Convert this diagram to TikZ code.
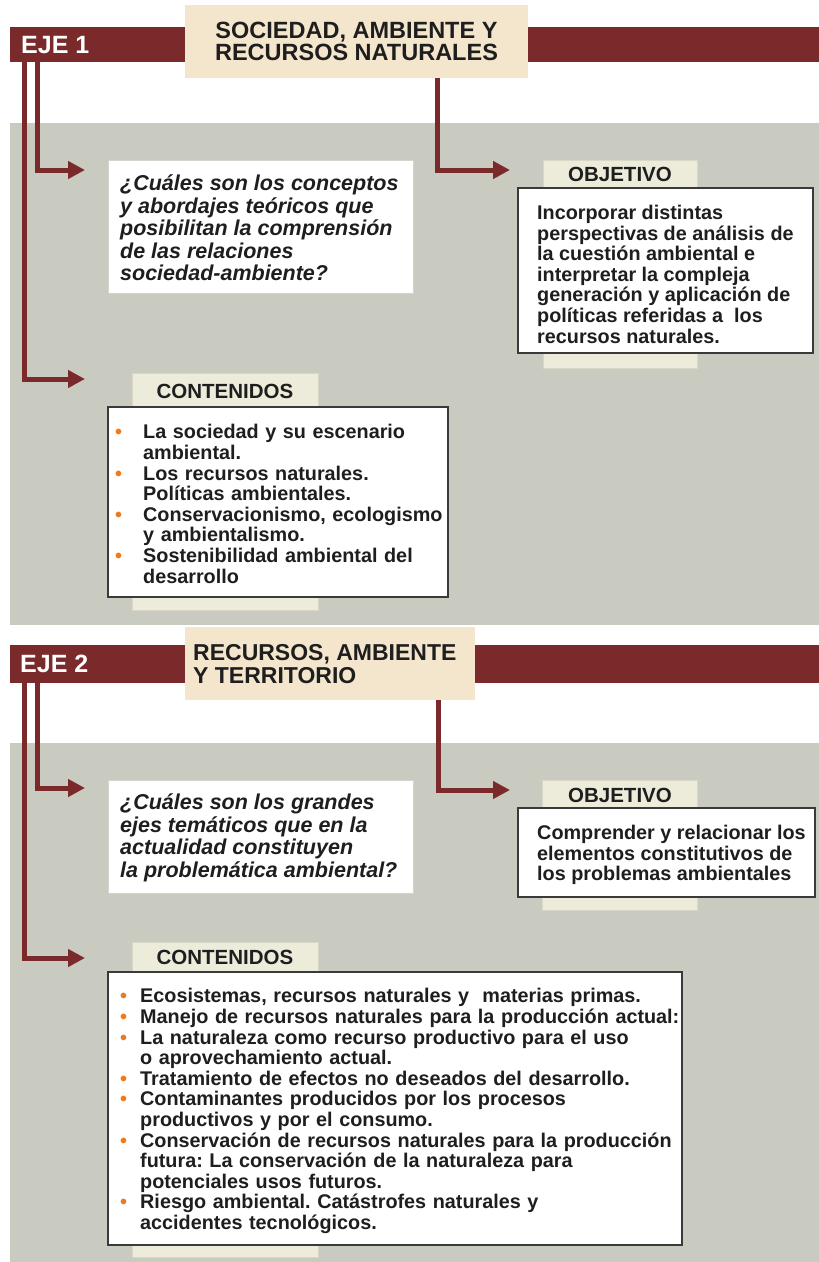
\documentclass[tikz,border=0pt]{standalone}
\usepackage{fontspec}
\setmainfont{Liberation Sans}
\usetikzlibrary{arrows.meta}
\frenchspacing
\definecolor{ejered}{HTML}{7B2A2B}
\definecolor{titlebeige}{HTML}{F4E6CD}
\definecolor{tabbeige}{HTML}{EDEBDA}
\definecolor{tabedge}{HTML}{DAD7C6}
\definecolor{panelgray}{HTML}{C9CAC0}
\definecolor{txtdark}{HTML}{1E1E1E}
\definecolor{bulletc}{HTML}{EE7A1E}
\definecolor{boxborder}{HTML}{3A3A3A}
\definecolor{qedge}{HTML}{D4D4CC}
\newlength{\bulletind}
\newcommand{\bitem}[1]{\par\noindent\hangindent=\bulletind\hangafter=1\makebox[\bulletind][l]{\textcolor{bulletc}{\textbullet}}#1\par}
\begin{document}
\begin{tikzpicture}[x=1pt,y=-1pt,
  rect/.style={inner sep=0pt, outer sep=0pt, anchor=north west},
  band/.style={rect, fill=ejered},
  titlebox/.style={rect, fill=titlebeige},
  panel/.style={rect, fill=panelgray},
  tabbox/.style={rect, fill=tabbeige, draw=tabedge, line width=0.8pt},
  whitebox/.style={rect, fill=white, draw=boxborder, line width=1.6pt},
  qbox/.style={rect, fill=white, draw=qedge, line width=1pt},
  conn/.style={draw=ejered, line width=5pt, line join=miter, -{Triangle[length=17pt,width=17pt]}},
  ejelabel/.style={inner sep=0pt, anchor=west, text=white, font=\fontsize{25}{27}\selectfont\bfseries},
  tablabel/.style={inner sep=0pt, text=txtdark, font=\fontsize{20.5}{22}\selectfont\bfseries},
  bodytext/.style={inner sep=0pt, anchor=north west, align=left, text=txtdark, font=\fontsize{19.8}{20.6}\selectfont\bfseries},
  listtext/.style={inner sep=0pt, anchor=north west, text=txtdark, font=\fontsize{19.8}{20.6}\selectfont\bfseries},
  qtext/.style={inner sep=0pt, anchor=north west, align=left, text=txtdark, font=\fontsize{21.5}{22.5}\selectfont\bfseries\itshape},
]
\useasboundingbox (0,0) rectangle (819,1262);
\fill[white] (0,0) rectangle (819,1262);

% ===== EJE 1 =====
\node[panel, minimum width=809pt, minimum height=502pt] (panel1) at (10,123) {};
\node[band, minimum width=809pt, minimum height=35pt] (band1) at (10,27) {};
\node[ejelabel] (eje1) at (21,45) {EJE 1};
\node[titlebox, minimum width=343pt, minimum height=73pt, align=center, text=txtdark,
      font=\fontsize{23.5}{22.5}\selectfont\bfseries] (title1) at (185,5) {SOCIEDAD, AMBIENTE Y\\RECURSOS NATURALES};

\coordinate (e1a) at (24,62);
\coordinate (e1b) at (37,62);
\coordinate (t1s) at (437,78);
\coordinate (q1in) at (85,170);
\coordinate (c1in) at (85,379);
\coordinate (o1in) at (510,170);
\draw[conn] (e1a) |- (c1in);
\draw[conn] (e1b) |- (q1in);
\draw[conn] (t1s) |- (o1in);

\node[qbox, minimum width=305pt, minimum height=133pt] (q1) at (108,160) {};
\node[qtext] (q1text) at (120,175) {¿Cuáles son los conceptos\\y abordajes teóricos que\\posibilitan la comprensión\\de las relaciones\\sociedad-ambiente?};

\node[tabbox, minimum width=154pt, minimum height=208pt] (obj1tab) at (543,160) {};
\node[tablabel] (obj1label) at (620,174) {OBJETIVO};
\node[whitebox, minimum width=295pt, minimum height=165pt] (obj1box) at (518,188) {};
\node[bodytext] (obj1text) at (537,205) {Incorporar distintas\\perspectivas de análisis de\\la cuestión ambiental e\\interpretar la compleja\\generación y aplicación de\\políticas referidas a \ los\\recursos naturales.};

\node[tabbox, minimum width=186pt, minimum height=237pt] (cont1tab) at (132,373) {};
\node[tablabel] (cont1label) at (225,391) {CONTENIDOS};
\node[whitebox, minimum width=340pt, minimum height=190pt] (cont1box) at (108,407) {};
\node[listtext, text width=330pt] (cont1text) at (115,418) {\raggedright\setlength{\bulletind}{28pt}%
\bitem{La sociedad y su escenario\newline ambiental.}%
\bitem{Los recursos naturales.\newline Políticas ambientales.}%
\bitem{Conservacionismo, ecologismo\newline y ambientalismo.}%
\bitem{Sostenibilidad ambiental del\newline desarrollo}};

% ===== EJE 2 =====
\node[panel, minimum width=809pt, minimum height=519pt] (panel2) at (10,743) {};
\node[band, minimum width=809pt, minimum height=38pt] (band2) at (10,645) {};
\node[ejelabel] (eje2) at (20,664) {EJE 2};
\node[titlebox, minimum width=290pt, minimum height=73pt] (title2) at (185,627) {};
\node[inner sep=0pt, anchor=north west, align=left, text=txtdark,
      font=\fontsize{23}{23}\selectfont\bfseries] (title2text) at (193,644) {RECURSOS, AMBIENTE\\Y TERRITORIO};

\coordinate (e2a) at (24,683);
\coordinate (e2b) at (37,683);
\coordinate (t2s) at (438,700);
\coordinate (q2in) at (85,788);
\coordinate (c2in) at (85,958);
\coordinate (o2in) at (510,790);
\draw[conn] (e2a) |- (c2in);
\draw[conn] (e2b) |- (q2in);
\draw[conn] (t2s) |- (o2in);

\node[qbox, minimum width=305pt, minimum height=113pt] (q2) at (108,780) {};
\node[qtext] (q2text) at (120,794) {¿Cuáles son los grandes\\ejes temáticos que en la\\actualidad constituyen\\la problemática ambiental?};

\node[tabbox, minimum width=155pt, minimum height=130pt] (obj2tab) at (542,780) {};
\node[tablabel] (obj2label) at (620,795) {OBJETIVO};
\node[whitebox, minimum width=297pt, minimum height=89pt] (obj2box) at (518,808) {};
\node[bodytext] (obj2text) at (537,825) {Comprender y relacionar los\\elementos constitutivos de\\los problemas ambientales};

\node[tabbox, minimum width=186pt, minimum height=315pt] (cont2tab) at (132,942) {};
\node[tablabel] (cont2label) at (225,957) {CONTENIDOS};
\node[whitebox, minimum width=574pt, minimum height=273pt] (cont2box) at (108,972) {};
\node[listtext, text width=560pt] (cont2text) at (120,982) {\raggedright\setlength{\bulletind}{20pt}%
\bitem{Ecosistemas, recursos naturales y \ materias primas.}%
\bitem{Manejo de recursos naturales para la producción actual:}%
\bitem{La naturaleza como recurso productivo para el uso\newline o aprovechamiento actual.}%
\bitem{Tratamiento de efectos no deseados del desarrollo.}%
\bitem{Contaminantes producidos por los procesos\newline productivos y por el consumo.}%
\bitem{Conservación de recursos naturales para la producción\newline futura: La conservación de la naturaleza para\newline potenciales usos futuros.}%
\bitem{Riesgo ambiental. Catástrofes naturales y\newline accidentes tecnológicos.}};
\end{tikzpicture}
\end{document}
